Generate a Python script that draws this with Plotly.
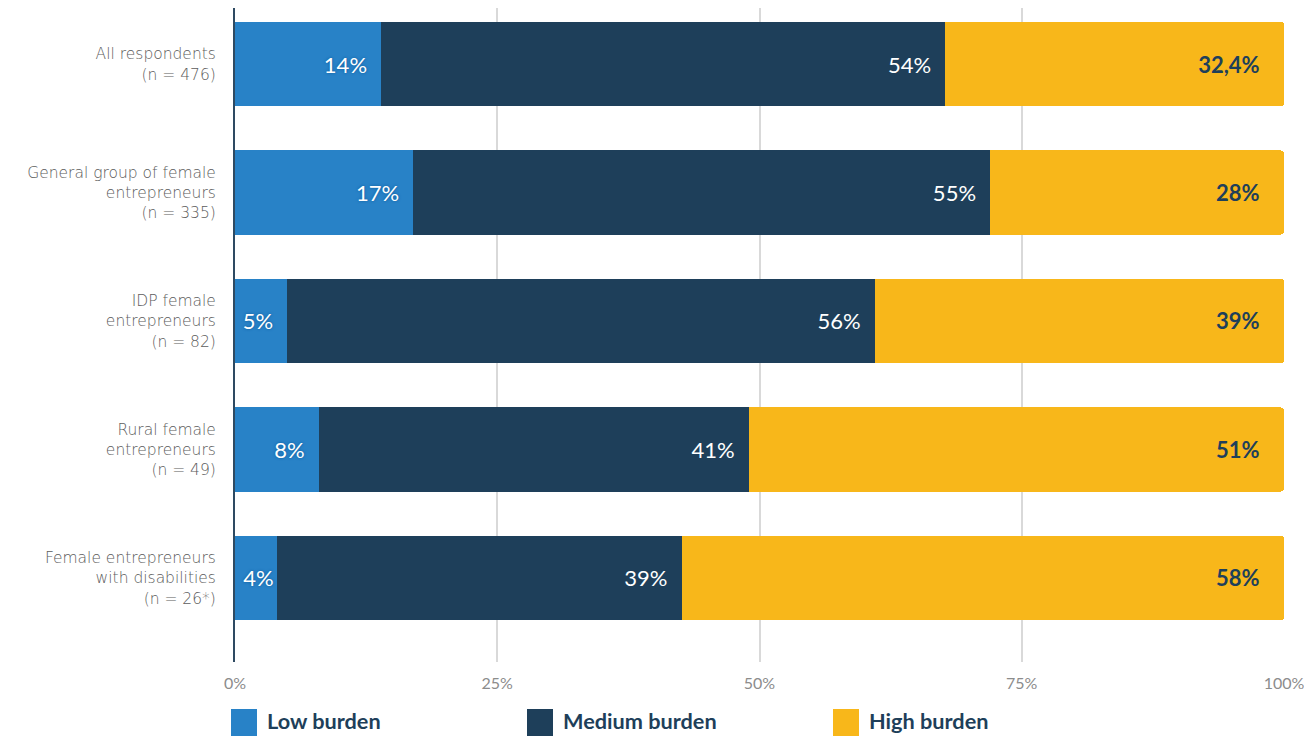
import plotly.graph_objects as go

# Respondent groups (top to bottom) and burden shares in percent
groups = [
    "All respondents<br>(n = 476)",
    "General group of female<br>entrepreneurs<br>(n = 335)",
    "IDP female<br>entrepreneurs<br>(n = 82)",
    "Rural female<br>entrepreneurs<br>(n = 49)",
    "Female entrepreneurs<br>with disabilities<br>(n = 26*)",
]
series_names = ["Low burden", "Medium burden", "High burden"]
low_burden = [14, 17, 5, 8, 4]
medium_burden = [54, 55, 56, 41, 39]
high_burden = [32.4, 28, 39, 51, 58]

x_ticks = [0, 25, 50, 75, 100]
x_tick_labels = ["0%", "25%", "50%", "75%", "100%"]

colors = ["#2882C7", "#1E3F5A", "#F8B71A"]
label_colors = ["#FFFFFF", "#FFFFFF", "#1E3F5A"]
NBSP = "\u00a0"
label_pad = [2, 2, 4]
label_fonts = [
    dict(family="Lato", size=22, color=label_colors[0], shadow="0px 0px 3px #0B5A9A"),
    dict(family="Lato", size=22, color=label_colors[1]),
    dict(family="Lato", size=22, color=label_colors[2], weight="bold"),
]

PLOT_L, PLOT_R, PLOT_T, PLOT_B = 235, 20, 8, 74
W, H = 1304, 736
plot_w = W - PLOT_L - PLOT_R
plot_h = H - PLOT_T - PLOT_B


def fmt(v):
    return f"{v:g}".replace(".", ",") + "%"


def label(v, pad):
    # narrow segments get their label flush to the segment end
    return fmt(v) + (NBSP * pad if v >= 5 else "")


fig = go.Figure()
for name, vals, color, font, pad in zip(
    series_names, [low_burden, medium_burden, high_burden], colors, label_fonts, label_pad
):
    fig.add_trace(
        go.Bar(
            name=name,
            y=groups,
            x=vals,
            orientation="h",
            marker=dict(color=color, line=dict(width=0)),
            width=0.654,
            text=[label(v, pad) for v in vals],
            textposition="inside",
            insidetextanchor="end",
            textangle=0,
            constraintext="none",
            textfont=font,
            showlegend=False,
            hoverinfo="skip",
        )
    )

# Legend: colour swatches with bold labels under the axis
legend_x = [231, 527, 833]
sw_w = 26
for name, color, xpx in zip(series_names, colors, legend_x):
    x0 = (xpx - PLOT_L) / plot_w
    x1 = (xpx + sw_w - PLOT_L) / plot_w
    y0 = (PLOT_T + plot_h - 709) / plot_h
    y1 = (PLOT_T + plot_h - 745) / plot_h
    fig.add_shape(
        type="rect", xref="paper", yref="paper", x0=x0, x1=x1, y0=y1, y1=y0,
        fillcolor=color, line=dict(width=0), layer="above",
    )
    fig.add_annotation(
        xref="paper", yref="paper",
        x=(xpx + sw_w + 8 - PLOT_L) / plot_w,
        y=(PLOT_T + plot_h - 721) / plot_h,
        text=name, showarrow=False, xanchor="left", yanchor="middle",
        font=dict(family="Lato", size=21.7, color="#1E3F5A", weight="bold"),
    )

fig.update_layout(
    width=W,
    height=H,
    margin=dict(l=PLOT_L, r=PLOT_R, t=PLOT_T, b=PLOT_B, pad=0, autoexpand=False),
    barmode="stack",
    barnorm="percent",
    barcornerradius=3,
    paper_bgcolor="white",
    plot_bgcolor="white",
    font=dict(family="Lato", color="#6E6E6E"),
    xaxis=dict(
        range=[0, 100],
        tickvals=x_ticks,
        ticktext=x_tick_labels,
        showgrid=True,
        gridcolor="#D9D9D9",
        gridwidth=2,
        zeroline=False,
        showline=False,
        ticks="",
        ticklabelstandoff=10,
        ticklabeloverflow="allow",
        automargin=False,
        tickfont=dict(family="Lato", size=16, color="#8C8C8C"),
        fixedrange=True,
    ),
    yaxis=dict(
        categoryorder="array",
        categoryarray=groups,
        range=[4.654, -0.436],
        showline=True,
        linecolor="#2E4A62",
        linewidth=2,
        showgrid=False,
        zeroline=False,
        ticks="",
        ticklabelstandoff=14,
        automargin=False,
        tickfont=dict(family="DejaVu Sans", size=15.5, color="#5C5C5C", weight=300),
        fixedrange=True,
    ),
)

fig.write_html("out.html")
